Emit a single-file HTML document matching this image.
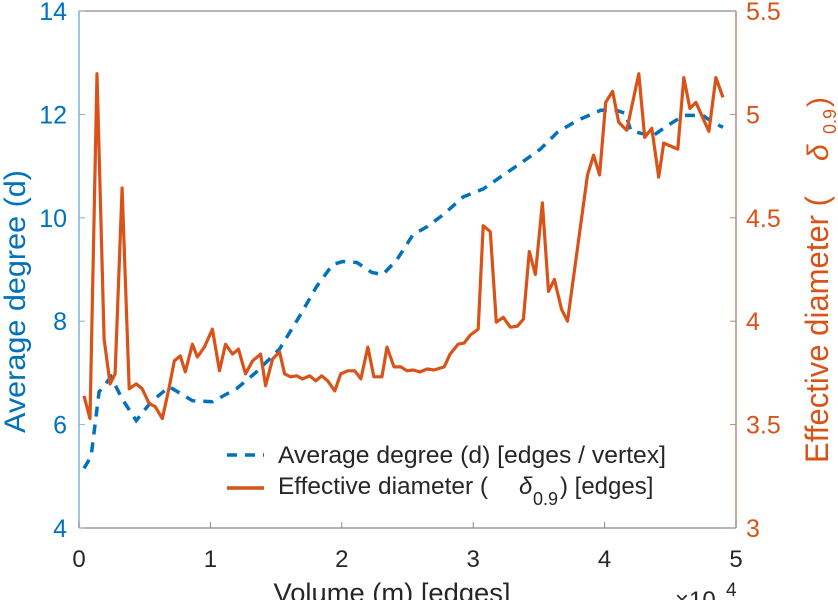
<!DOCTYPE html>
<html><head><meta charset="utf-8"><style>
body{margin:0;background:#fff;width:838px;height:600px;overflow:hidden;font-family:"Liberation Sans",sans-serif}
svg text{font-family:"Liberation Sans",sans-serif}
</style></head><body>
<svg id="chart" width="838" height="600" xmlns="http://www.w3.org/2000/svg">
<g id="axes"></g>
<g id="series"></g>
<g id="legend">
  <line x1="227" y1="455" x2="264" y2="455" stroke="#0072BD" stroke-width="3.5" stroke-dasharray="10,8"/>
  <text x="278" y="463" font-size="24" textLength="388" lengthAdjust="spacingAndGlyphs" fill="#262626">Average degree (d) [edges / vertex]</text>
  <line x1="227" y1="488" x2="264" y2="488" stroke="#D95319" stroke-width="3.5"/>
  <text x="278" y="494" font-size="24" textLength="210" lengthAdjust="spacingAndGlyphs" fill="#262626">Effective diameter (</text>
  <text x="519" y="494" font-size="24" font-style="italic" fill="#262626">δ</text>
  <text x="533" y="505" font-size="18" fill="#262626">0.9</text>
  <text x="560" y="494" font-size="24" fill="#262626">) [edges]</text>
</g>
</svg>
<script>
const degX=[0.038,0.092,0.153,0.244,0.328,0.435,0.55,0.687,0.863,1.015,1.198,1.351,1.527,1.679,1.809,1.931,2.008,2.115,2.229,2.313,2.42,2.542,2.649,2.771,2.924,3.076,3.206,3.374,3.511,3.641,3.794,3.969,4.069,4.16,4.198,4.275,4.374,4.481,4.603,4.748,4.824,4.901];
const degY=[5.154,5.385,6.635,6.923,6.5,6.077,6.442,6.731,6.462,6.442,6.692,7.019,7.462,8.096,8.673,9.096,9.154,9.135,8.942,8.904,9.192,9.673,9.827,10.058,10.404,10.558,10.788,11.077,11.327,11.654,11.885,12.077,12.096,12.019,11.692,11.635,11.596,11.788,11.981,11.981,11.846,11.75];
const diaX=[0.038,0.084,0.137,0.191,0.237,0.275,0.328,0.382,0.435,0.481,0.534,0.580,0.634,0.687,0.725,0.771,0.809,0.863,0.901,0.954,1.015,1.069,1.115,1.168,1.214,1.267,1.321,1.382,1.420,1.473,1.527,1.565,1.611,1.656,1.702,1.756,1.802,1.847,1.893,1.947,1.992,2.046,2.099,2.145,2.198,2.244,2.305,2.344,2.397,2.450,2.496,2.542,2.595,2.649,2.702,2.779,2.824,2.885,2.931,2.977,3.038,3.076,3.130,3.176,3.229,3.282,3.336,3.382,3.427,3.473,3.527,3.573,3.618,3.672,3.718,3.870,3.916,3.962,4.008,4.061,4.107,4.168,4.260,4.305,4.359,4.412,4.450,4.557,4.603,4.649,4.695,4.794,4.847,4.901];
const diaY=[3.639,3.529,5.197,3.913,3.697,3.745,4.644,3.673,3.697,3.673,3.601,3.587,3.529,3.683,3.808,3.832,3.755,3.889,3.827,3.875,3.962,3.760,3.889,3.841,3.865,3.745,3.808,3.841,3.688,3.817,3.851,3.745,3.731,3.736,3.721,3.736,3.712,3.736,3.712,3.663,3.745,3.760,3.760,3.721,3.875,3.731,3.731,3.875,3.779,3.779,3.760,3.764,3.755,3.769,3.764,3.779,3.841,3.889,3.894,3.933,3.962,4.462,4.433,3.995,4.019,3.971,3.976,4.010,4.337,4.226,4.572,4.144,4.202,4.058,4.000,4.707,4.803,4.707,5.058,5.111,4.962,4.923,5.197,4.889,4.933,4.697,4.861,4.832,5.178,5.029,5.058,4.918,5.178,5.082];
const xTicks=[0,1,2,3,4,5];
const yLTicks=[4,6,8,10,12,14];
const yRTicks=[3,3.5,4,4.5,5,5.5];
const yRLabels=["3","3.5","4","4.5","5","5.5"];

const L=79,R=736,T=11,B=528;
const sx=v=>L+(v/5)*(R-L);
const syL=v=>B-(v-4)/10*(B-T);
const syR=v=>B-(v-3)/2.5*(B-T);
const NS="http://www.w3.org/2000/svg";
function mk(tag,attrs,parent,txt){const e=document.createElementNS(NS,tag);for(const k in attrs)e.setAttribute(k,attrs[k]);if(txt!==undefined)e.textContent=txt;parent.appendChild(e);return e;}
const ax=document.getElementById('axes');
const blue="#0072BD",org="#D95319",gray="#262626";
let e;
e=mk('line',{x1:L,y1:T,x2:R,y2:T,stroke:"#888",'stroke-width':1.2},ax);


e=mk('line',{x1:L,y1:B,x2:R,y2:B,stroke:"#888",'stroke-width':1.2},ax);


e=mk('line',{x1:L,y1:T,x2:L,y2:B,stroke:"#7FB3DB",'stroke-width':1.5},ax);


e=mk('line',{x1:R,y1:T,x2:R,y2:B,stroke:"#B08A80",'stroke-width':1.5},ax);


xTicks.forEach(t=>{
  e=mk('line',{x1:sx(t),y1:B,x2:sx(t),y2:B-6,stroke:"#888"},ax);
  
  
  e=mk('text',{x:sx(t),y:567,'font-size':24,'text-anchor':'middle',fill:gray},ax,String(t));
  
  
});
yLTicks.forEach(t=>{
  e=mk('line',{x1:L,y1:syL(t),x2:L+6,y2:syL(t),stroke:"#7FB3DB"},ax);
  
  
  e=mk('text',{x:L-12,y:syL(t)+9,'font-size':25,'text-anchor':'end',fill:blue},ax,String(t));
  
  
});
yRTicks.forEach((t,i)=>{
  e=mk('line',{x1:R,y1:syR(t),x2:R-6,y2:syR(t),stroke:"#B08A80"},ax);
  
  
  e=mk('text',{x:R+10,y:syR(t)+9,'font-size':25,fill:org},ax,yRLabels[i]);
  
  
});
e=mk('text',{x:0,y:0,'font-size':30,textLength:263,lengthAdjust:'spacingAndGlyphs',fill:blue,transform:`translate(25,433) rotate(-90)`},ax,"Average degree (d)");


e=mk('text',{x:0,y:0,'font-size':32,textLength:267,lengthAdjust:'spacingAndGlyphs',fill:org,transform:`translate(828,463) rotate(-90)`},ax,"Effective diameter (");


e=mk('text',{x:0,y:0,'font-size':30,'font-style':'italic',fill:org,transform:`translate(828,161) rotate(-90)`},ax,"δ");


e=mk('text',{x:0,y:0,'font-size':18,fill:org,transform:`translate(836,134) rotate(-90)`},ax,"0.9");


e=mk('text',{x:0,y:0,'font-size':30,fill:org,transform:`translate(828,107) rotate(-90)`},ax,")");


e=mk('text',{x:392,y:602,'font-size':27,textLength:237,lengthAdjust:'spacingAndGlyphs','text-anchor':'middle',fill:gray},ax,"Volume (m) [edges]");


e=mk('text',{x:675,y:608,'font-size':24,fill:gray},ax,"×10");


e=mk('text',{x:726,y:596,'font-size':19,fill:gray},ax,"4");



const se=document.getElementById('series');
const dDeg=degX.map((x,i)=>(i?'L':'M')+sx(x).toFixed(1)+','+syL(degY[i]).toFixed(1)).join(' ');
e=mk('path',{d:dDeg,fill:'none',stroke:blue,'stroke-width':3.5,'stroke-dasharray':'10,8'},se);


const dDia=diaX.map((x,i)=>(i?'L':'M')+sx(x).toFixed(1)+','+syR(diaY[i]).toFixed(1)).join(' ');
e=mk('path',{d:dDia,fill:'none',stroke:org,'stroke-width':3.2,'stroke-linejoin':'round'},se);


</script>
</body></html>
